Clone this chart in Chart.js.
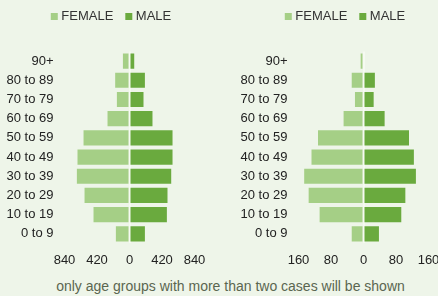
<!DOCTYPE html>
<html>
<head>
<meta charset="utf-8">
<script src="https://cdn.jsdelivr.net/npm/chart.js@4/dist/chart.umd.min.js"></script>
<style>
  html, body { margin: 0; padding: 0; background: #eef5e9; width: 438px; height: 296px; overflow: hidden; }
  .pane { position: absolute; top: -5px; width: 225px; height: 282px; }
  #note {
    position: absolute; left: 0; top: 277px; width: 461px; text-align: center;
    font: 14px "Liberation Sans", Arial, sans-serif; line-height: 18px; color: #5a6650;
  }
</style>
</head>
<body>
<div class="pane" style="left:0"><canvas id="left"></canvas></div>
<div class="pane" style="left:234px"><canvas id="right"></canvas></div>
<div id="note">only age groups with more than two cases will be shown</div>

<script>
// age groups, top row first
const AGE_GROUPS = ['90+', '80 to 89', '70 to 79', '60 to 69', '50 to 59',
                    '40 to 49', '30 to 39', '20 to 29', '10 to 19', '0 to 9'];

// left pyramid
const LEFT_FEMALE = [85, 185, 163, 284, 594, 672, 680, 581, 465, 176];
const LEFT_MALE   = [61, 199, 181, 297, 556, 556, 539, 491, 483, 199];
const LEFT_TICK_MAX = 840;
const LEFT_TICK_STEP = 420;

// right pyramid
const RIGHT_FEMALE = [7, 29, 21, 49, 112, 128, 146, 135, 108, 29];
const RIGHT_MALE   = [0, 28, 25, 52, 112, 124, 129, 103, 93, 38];
const RIGHT_TICK_MAX = 160;
const RIGHT_TICK_STEP = 80;

const FEMALE_COLOR = '#a5cf86';
const MALE_COLOR = '#6aaa3e';
const FONT = { family: '"Liberation Sans", Arial, sans-serif', size: 13 };

// push the plot down a bit below the legend
const legendGap = {
  id: 'legendGap',
  beforeInit(chart) {
    const fit = chart.legend.fit;
    chart.legend.fit = function () {
      fit.bind(chart.legend)();
      this.height += 18.5;
    };
  },
};

function pyramid(id, female, male, max, step) {
  return new Chart(document.getElementById(id), {
    type: 'bar',
    data: {
      labels: AGE_GROUPS,
      datasets: [
        { label: 'FEMALE', data: female.map(v => -v), backgroundColor: FEMALE_COLOR,
          barPercentage: 0.79, categoryPercentage: 1 },
        { label: 'MALE', data: male, backgroundColor: MALE_COLOR,
          barPercentage: 0.79, categoryPercentage: 1 },
      ],
    },
    options: {
      indexAxis: 'y',
      responsive: true,
      maintainAspectRatio: false,
      animation: false,
      layout: { padding: 0 },
      plugins: {
        legend: {
          position: 'top',
          // tiny box width + square point style keeps the text close to the swatch
          labels: { usePointStyle: true, pointStyle: 'rect', boxWidth: 1, boxHeight: 7,
                    padding: 15, color: '#333', font: FONT },
        },
        tooltip: {
          callbacks: { label: ctx => ` ${ctx.dataset.label}: ${Math.abs(ctx.raw)}` },
        },
      },
      scales: {
        x: {
          stacked: true,
          min: -max,
          max: max,
          z: 1,
          border: { display: false },
          grid: {
            drawTicks: false,
            lineWidth: 2,
            color: ctx => (ctx.tick && ctx.tick.value === 0 ? '#f6faf2' : 'transparent'),
          },
          ticks: { stepSize: step, padding: 9, maxRotation: 0, color: '#222', font: FONT,
                   callback: v => Math.abs(v) },
        },
        y: {
          stacked: true,
          border: { display: false },
          grid: { display: false, drawTicks: false },
          ticks: { padding: 11, autoSkip: false, color: '#222', font: FONT },
          afterFit: s => { s.width = 64.5; },
        },
        // empty right-hand axis only to keep room at the right edge
        y2: {
          type: 'category',
          position: 'right',
          labels: AGE_GROUPS,
          border: { display: false },
          grid: { display: false, drawTicks: false },
          ticks: { display: false },
          afterFit: s => { s.width = 30.5; },
        },
      },
    },
    plugins: [legendGap],
  });
}

pyramid('left', LEFT_FEMALE, LEFT_MALE, LEFT_TICK_MAX, LEFT_TICK_STEP);
pyramid('right', RIGHT_FEMALE, RIGHT_MALE, RIGHT_TICK_MAX, RIGHT_TICK_STEP);
</script>
</body>
</html>
